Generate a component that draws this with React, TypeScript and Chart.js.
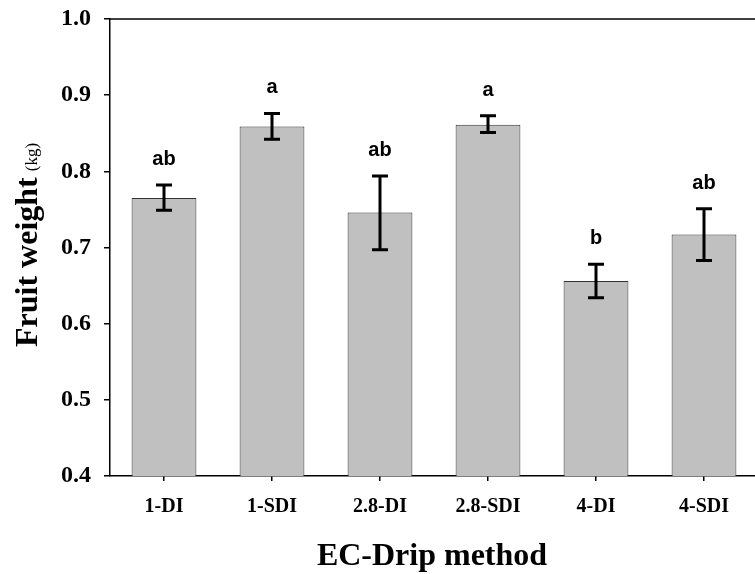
import React, { useEffect, useRef } from "react";
import { Chart, registerables } from "chart.js";

Chart.register(...registerables);

const categories = ["1-DI", "1-SDI", "2.8-DI", "2.8-SDI", "4-DI", "4-SDI"];
const means = [0.765, 0.859, 0.746, 0.861, 0.656, 0.717];
const errLow = [0.749, 0.842, 0.697, 0.851, 0.634, 0.683];
const errHigh = [0.782, 0.876, 0.794, 0.873, 0.678, 0.751];
const letters = ["ab", "a", "ab", "a", "b", "ab"];
const yMin = 0.4;
const yMax = 1.0;
const yStep = 0.1;

const SERIF = "'Times New Roman', 'Liberation Serif', serif";
const SANS = "Arial, 'Liberation Sans', sans-serif";

const overlayPlugin = {
  id: "overlay",
  afterDatasetsDraw(chart: any) {
    const { ctx, chartArea, scales } = chart;
    const yScale = scales.y;
    const meta = chart.getDatasetMeta(0);
    ctx.save();
    // top frame line
    ctx.strokeStyle = "#000";
    ctx.lineWidth = 1.5;
    ctx.beginPath();
    ctx.moveTo(chartArea.left - 0.75, chartArea.top);
    ctx.lineTo(chartArea.right + 5, chartArea.top);
    ctx.stroke();
    // error bars + letters
    meta.data.forEach((bar: any, i: number) => {
      const x = bar.x;
      const yT = yScale.getPixelForValue(errHigh[i]);
      const yB = yScale.getPixelForValue(errLow[i]);
      ctx.strokeStyle = "#000";
      ctx.lineWidth = 3;
      ctx.beginPath();
      ctx.moveTo(x, yT);
      ctx.lineTo(x, yB);
      ctx.moveTo(x - 8, yT);
      ctx.lineTo(x + 8, yT);
      ctx.moveTo(x - 8, yB);
      ctx.lineTo(x + 8, yB);
      ctx.stroke();
      ctx.fillStyle = "#000";
      ctx.font = `bold 20px ${SANS}`;
      ctx.textAlign = "center";
      ctx.textBaseline = "alphabetic";
      ctx.fillText(letters[i], x, yT - 20);
    });
    // x title
    ctx.font = `bold 32px ${SERIF}`;
    ctx.textAlign = "center";
    ctx.textBaseline = "alphabetic";
    ctx.fillText("EC-Drip method", 432, 565);
    // y title
    ctx.translate(37, 347);
    ctx.rotate(-Math.PI / 2);
    ctx.textAlign = "left";
    ctx.font = `bold 32px ${SERIF}`;
    ctx.fillText("Fruit weight", 0, 0);
    const w = ctx.measureText("Fruit weight").width;
    ctx.font = `17px ${SERIF}`;
    ctx.fillText("(kg)", w + 6, 0);
    ctx.restore();
  },
};

export default function App() {
  const ref = useRef<HTMLCanvasElement>(null);
  useEffect(() => {
    if (!ref.current) return;
    const chart = new Chart(ref.current, {
      type: "bar",
      data: {
        labels: categories,
        datasets: [
          {
            data: means,
            backgroundColor: "#c0c0c0",
            borderColor: "#333333",
            borderWidth: 1,
            categoryPercentage: 1,
            barPercentage: 0.6,
          },
        ],
      },
      options: {
        responsive: false,
        animation: false,
        devicePixelRatio: 1,
        layout: { padding: { left: 0, top: 19, right: 42, bottom: 0 } },
        plugins: { legend: { display: false }, tooltip: { enabled: false } },
        scales: {
          x: {
            type: "category",
            offset: true,
            grid: {
              display: true,
              offset: false,
              drawOnChartArea: false,
              drawTicks: true,
              tickLength: 5,
              color: "#000",
              lineWidth: 1.5,
            },
            border: { display: true, color: "#000", width: 1.5 },
            ticks: {
              color: "#000",
              font: { family: SERIF, size: 20, weight: "bold" },
              padding: 14,
              maxRotation: 0,
              autoSkip: false,
            },
            afterFit(scale: any) {
              scale.height = 98;
              scale.paddingLeft = 0;
              scale.paddingRight = 0;
            },
          },
          y: {
            min: yMin,
            max: yMax,
            grid: {
              display: true,
              drawOnChartArea: false,
              drawTicks: true,
              tickLength: 6,
              color: "#000",
              lineWidth: 1.5,
            },
            border: { display: true, color: "#000", width: 1.5 },
            ticks: {
              stepSize: yStep,
              color: "#000",
              font: { family: SERIF, size: 24, weight: "bold" },
              padding: 13,
              callback: (v: any) => Number(v).toFixed(1),
            },
            afterFit(scale: any) {
              scale.width = 110;
              scale.paddingTop = 0;
              scale.paddingBottom = 0;
            },
          },
        },
      },
      plugins: [overlayPlugin],
    });
    return () => chart.destroy();
  }, []);
  return (
    <div
      style={{
        position: "fixed",
        left: 0,
        top: 0,
        width: 755,
        height: 574,
        overflow: "hidden",
        background: "#fff",
      }}
    >
      <canvas ref={ref} width={800} height={574} style={{ display: "block" }} />
    </div>
  );
}
